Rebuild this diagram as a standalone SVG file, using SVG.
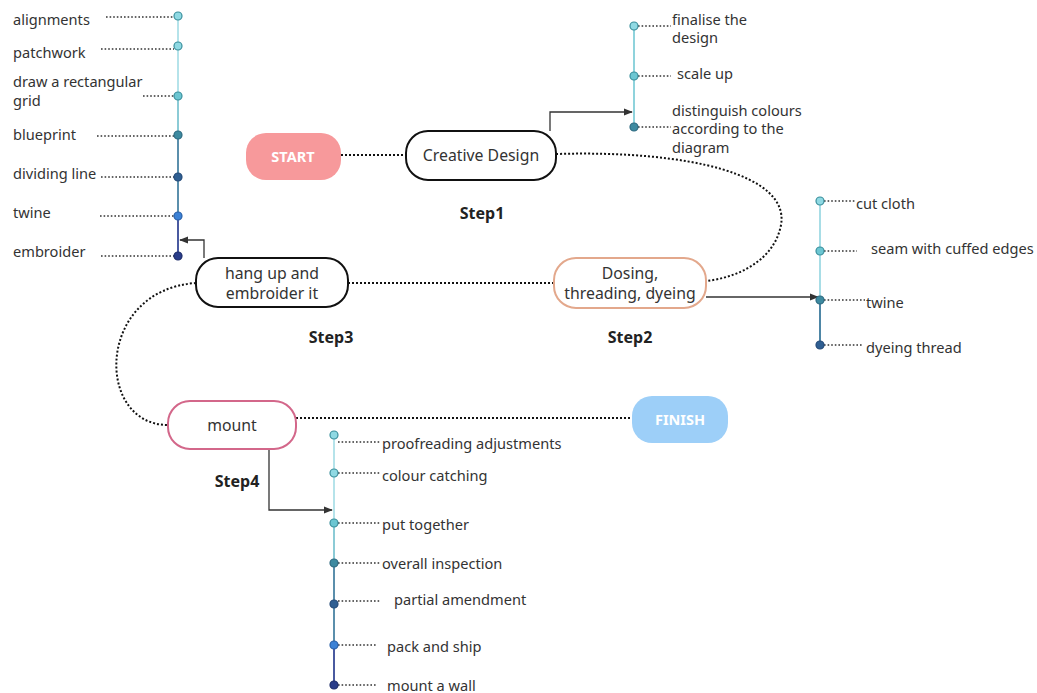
<svg xmlns="http://www.w3.org/2000/svg" width="1037" height="693" viewBox="0 0 1037 693">
<style>
text{font-family:"Noto Sans","Open Sans","DejaVu Sans",sans-serif;fill:#333}
.lbl{font-size:14.6px}
.node{font-size:15.8px;text-anchor:middle}
.step{font-size:16px;font-weight:bold;text-anchor:middle;fill:#222}
.term{font-size:14.5px;font-weight:bold;fill:#fff;text-anchor:middle}
.dot{stroke:#111;stroke-width:2;stroke-dasharray:2 2;fill:none}
.lead{stroke:#333;stroke-width:1.6;stroke-dasharray:1.6 2;fill:none}
.arr{stroke:#333;stroke-width:1.3;fill:none;marker-end:url(#ah)}
.c1{fill:#8fd9e3;stroke:#3a8f9c;stroke-width:1.2}
.c2{fill:#6cc6d2;stroke:#3a8f9c;stroke-width:1.2}
.c3{fill:#3d8aa0;stroke:#2d6a80;stroke-width:1.2}
.c4{fill:#2f5f92;stroke:#244a78;stroke-width:1.2}
.c5{fill:#3c82d6;stroke:#2a60a8;stroke-width:1.2}
.c6{fill:#2a3d8a;stroke:#1e2d6a;stroke-width:1.2}
</style>
<defs>
<marker id="ah" viewBox="0 0 10 10" refX="9" refY="5" markerWidth="9" markerHeight="9" orient="auto" markerUnits="userSpaceOnUse">
<path d="M0,1 L10,5 L0,9 Z" fill="#333"/>
</marker>
</defs>
<rect width="1037" height="693" fill="#fff"/>

<g id="connectors">
<line class="dot" x1="341" y1="155" x2="406" y2="155"/>
<path class="dot" d="M556,154 C690,150 790,175 781,225 C774,262 735,278 706,281"/>
<line class="dot" x1="348" y1="283" x2="554" y2="283"/>
<path class="dot" d="M196,283 C95,290 95,425 168,425"/>
<line class="dot" x1="296" y1="418" x2="632" y2="418"/>
<path class="arr" d="M550,131 L550,112 L632,112"/>
<path class="arr" d="M706,297 L818,297"/>
<path class="arr" d="M204,258 L204,240 L180,240"/>
<path class="arr" d="M269,449 L269,510 L332,510"/>
</g>

<g id="timeline-left">
<line x1="178" y1="17" x2="178" y2="96" stroke="#b5e3ea" stroke-width="2"/>
<line x1="178" y1="96" x2="178" y2="135" stroke="#8ccbd6" stroke-width="2"/>
<line x1="178" y1="135" x2="178" y2="216" stroke="#5b8fac" stroke-width="2"/>
<line x1="178" y1="216" x2="178" y2="256" stroke="#4a5aa0" stroke-width="2"/>
<line class="lead" x1="106" y1="17" x2="174" y2="17"/>
<line class="lead" x1="101" y1="49" x2="174" y2="49"/>
<line class="lead" x1="143" y1="96" x2="174" y2="96"/>
<line class="lead" x1="97" y1="136" x2="174" y2="136"/>
<line class="lead" x1="101" y1="177" x2="174" y2="177"/>
<line class="lead" x1="100" y1="216" x2="174" y2="216"/>
<line class="lead" x1="101" y1="256" x2="174" y2="256"/>
<circle class="c1" cx="178" cy="16" r="4"/>
<circle class="c1" cx="178" cy="46" r="4"/>
<circle class="c2" cx="178" cy="96" r="4"/>
<circle class="c3" cx="178" cy="135" r="4"/>
<circle class="c4" cx="178" cy="177" r="4"/>
<circle class="c5" cx="178" cy="216" r="4"/>
<circle class="c6" cx="178" cy="256" r="4"/>
<text class="lbl" x="13" y="25">alignments</text>
<text class="lbl" x="13" y="58">patchwork</text>
<text class="lbl" x="13" y="87">draw a rectangular</text>
<text class="lbl" x="13" y="106">grid</text>
<text class="lbl" x="13" y="140">blueprint</text>
<text class="lbl" x="13" y="179">dividing line</text>
<text class="lbl" x="13" y="218">twine</text>
<text class="lbl" x="13" y="257">embroider</text>
</g>

<g id="timeline-step1">
<line x1="634" y1="26" x2="634" y2="127" stroke="#8fd3dc" stroke-width="2"/>
<line class="lead" x1="638" y1="26" x2="671" y2="26"/>
<line class="lead" x1="638" y1="76" x2="671" y2="76"/>
<line class="lead" x1="638" y1="127" x2="671" y2="127"/>
<circle class="c1" cx="634" cy="26" r="4"/>
<circle class="c2" cx="634" cy="76" r="4"/>
<circle class="c3" cx="634" cy="127" r="4"/>
<text class="lbl" x="672" y="25">finalise the</text>
<text class="lbl" x="672" y="43">design</text>
<text class="lbl" x="677" y="79">scale up</text>
<text class="lbl" x="672" y="116">distinguish colours</text>
<text class="lbl" x="672" y="134">according to the</text>
<text class="lbl" x="672" y="153">diagram</text>
</g>

<g id="timeline-step2">
<line x1="820" y1="201" x2="820" y2="300" stroke="#a8dde6" stroke-width="2"/>
<line x1="820" y1="300" x2="820" y2="345" stroke="#4e86a6" stroke-width="2"/>
<line class="lead" x1="824" y1="201" x2="855" y2="201"/>
<line class="lead" x1="824" y1="251" x2="857" y2="251"/>
<line class="lead" x1="824" y1="300" x2="865" y2="300"/>
<line class="lead" x1="824" y1="345" x2="862" y2="345"/>
<circle class="c1" cx="820" cy="201" r="4"/>
<circle class="c2" cx="820" cy="251" r="4"/>
<circle class="c3" cx="820" cy="300" r="4"/>
<circle class="c4" cx="820" cy="345" r="4"/>
<text class="lbl" x="856" y="209">cut cloth</text>
<text class="lbl" x="871" y="254">seam with cuffed edges</text>
<text class="lbl" x="866" y="308">twine</text>
<text class="lbl" x="866" y="353">dyeing thread</text>
</g>

<g id="timeline-step4">
<line x1="334" y1="435" x2="334" y2="523" stroke="#b5e3ea" stroke-width="2"/>
<line x1="334" y1="523" x2="334" y2="563" stroke="#8ccbd6" stroke-width="2"/>
<line x1="334" y1="563" x2="334" y2="645" stroke="#5b8fac" stroke-width="2"/>
<line x1="334" y1="645" x2="334" y2="685" stroke="#4a5aa0" stroke-width="2"/>
<line class="lead" x1="338" y1="442" x2="380" y2="442"/>
<line class="lead" x1="338" y1="473" x2="380" y2="473"/>
<line class="lead" x1="338" y1="523" x2="380" y2="523"/>
<line class="lead" x1="338" y1="563" x2="380" y2="563"/>
<line class="lead" x1="338" y1="601" x2="380" y2="601"/>
<line class="lead" x1="338" y1="645" x2="376" y2="645"/>
<line class="lead" x1="338" y1="685" x2="376" y2="685"/>
<circle class="c1" cx="334" cy="435" r="4"/>
<circle class="c1" cx="334" cy="473" r="4"/>
<circle class="c2" cx="334" cy="523" r="4"/>
<circle class="c3" cx="334" cy="563" r="4"/>
<circle class="c4" cx="334" cy="604" r="4"/>
<circle class="c5" cx="334" cy="645" r="4"/>
<circle class="c6" cx="334" cy="685" r="4"/>
<text class="lbl" x="382" y="449">proofreading adjustments</text>
<text class="lbl" x="382" y="481">colour catching</text>
<text class="lbl" x="382" y="530">put together</text>
<text class="lbl" x="382" y="569">overall inspection</text>
<text class="lbl" x="394" y="605">partial amendment</text>
<text class="lbl" x="387" y="652">pack and ship</text>
<text class="lbl" x="387" y="691">mount a wall</text>
</g>

<g id="start">
<rect x="246" y="133" width="95" height="47" rx="20" fill="#f7999b"/>
<text class="term" x="293" y="162">START</text>
</g>
<g id="creative-design">
<rect x="406" y="131" width="150" height="49" rx="22" fill="#fff" stroke="#111" stroke-width="2"/>
<text class="node" x="481" y="161">Creative Design</text>
<text class="step" x="482" y="219">Step1</text>
</g>
<g id="dosing">
<rect x="554" y="258" width="152" height="50" rx="22" fill="#fff" stroke="#e3a88c" stroke-width="2"/>
<text class="node" x="630" y="279">Dosing,</text>
<text class="node" x="630" y="299">threading, dyeing</text>
<text class="step" x="630" y="343">Step2</text>
</g>
<g id="hang-up">
<rect x="196" y="258" width="152" height="49" rx="22" fill="#fff" stroke="#111" stroke-width="2"/>
<text class="node" x="272" y="279">hang up and</text>
<text class="node" x="272" y="299">embroider it</text>
<text class="step" x="331" y="343">Step3</text>
</g>
<g id="mount">
<rect x="168" y="401" width="128" height="48" rx="22" fill="#fff" stroke="#d3678a" stroke-width="2"/>
<text class="node" x="232" y="431">mount</text>
<text class="step" x="237" y="487">Step4</text>
</g>
<g id="finish">
<rect x="632" y="396" width="96" height="47" rx="20" fill="#9dcff8"/>
<text class="term" x="680" y="425">FINISH</text>
</g>
</svg>
